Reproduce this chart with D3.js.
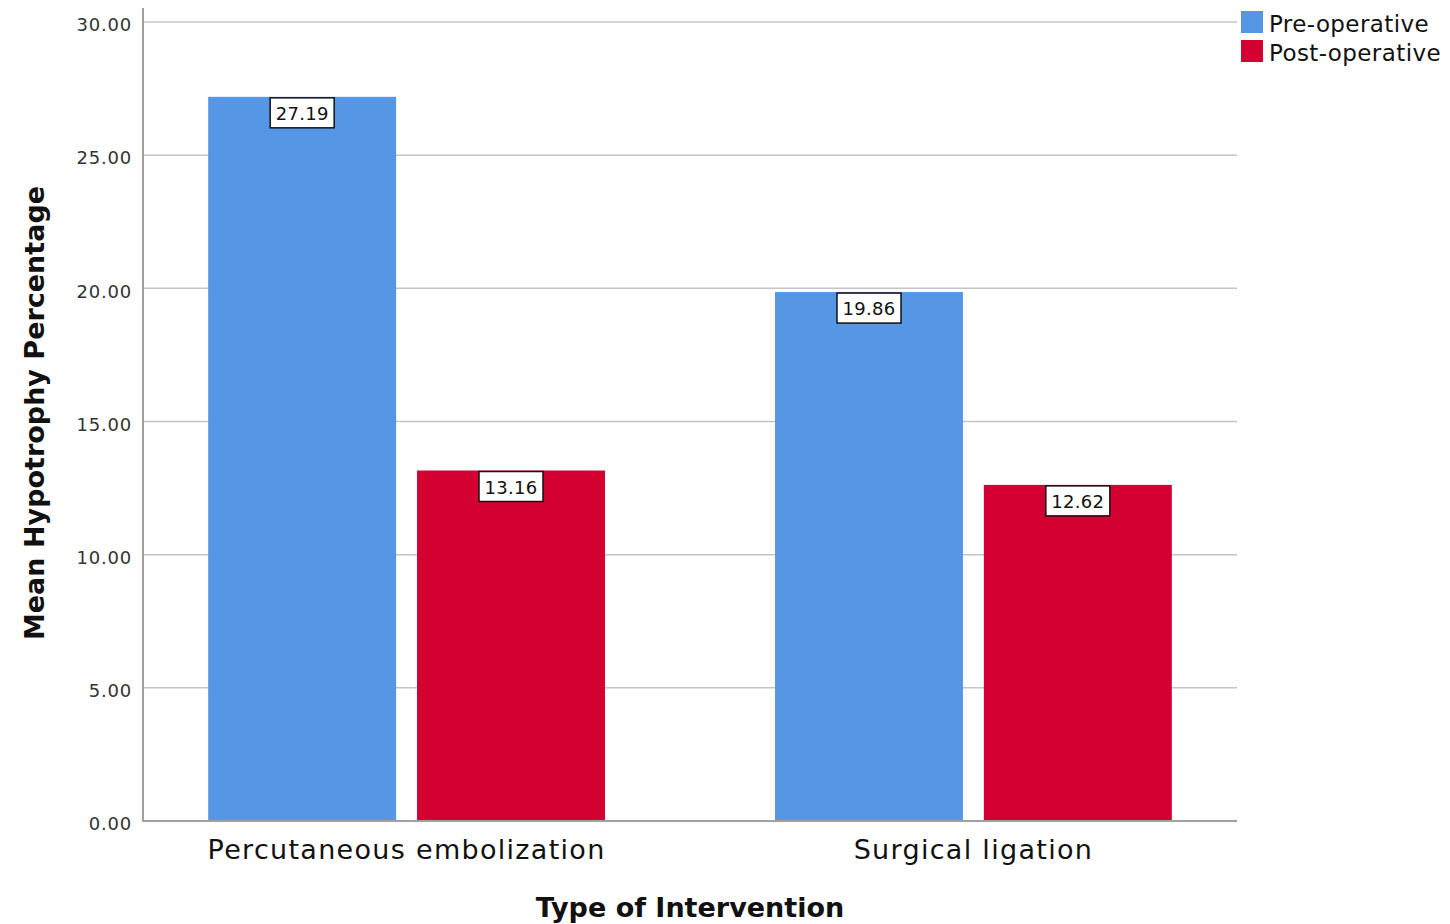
<!DOCTYPE html>
<html>
<head>
<meta charset="utf-8">
<script src="https://cdn.jsdelivr.net/npm/d3@7"></script>
<style>
body { margin: 0; background: #fff; }
text { font-family: "DejaVu Sans", sans-serif; }
</style>
</head>
<body>
<svg></svg>
<script>
var categories = ["Percutaneous embolization", "Surgical ligation"];
var series = ["Pre-operative", "Post-operative"];
var preValues = [27.19, 19.86];
var postValues = [13.16, 12.62];
var yTicks = [0, 5, 10, 15, 20, 25, 30];
var colors = ["#5596e5", "#d50032"];

var svg = d3.select("svg")
    .attr("width", 1450)
    .attr("height", 924);

var plotLeft = 143, plotRight = 1237, plotTop = 22, plotBottom = 821;

var x0 = d3.scaleBand()
    .domain(categories)
    .range([plotLeft, plotRight])
    .paddingInner(0.3)
    .paddingOuter(0.115);

var x1 = d3.scaleBand()
    .domain(series)
    .range([0, x0.bandwidth()])
    .paddingInner(0.1);

var y = d3.scaleLinear()
    .domain([0, 30])
    .range([plotBottom, plotTop]);

var color = d3.scaleOrdinal().domain(series).range(colors);

// gridlines
svg.append("g")
    .selectAll("line")
    .data(yTicks.filter(function(d) { return d > 0; }))
    .enter().append("line")
    .attr("x1", plotLeft)
    .attr("x2", plotRight)
    .attr("y1", function(d) { return y(d); })
    .attr("y2", function(d) { return y(d); })
    .attr("stroke", "#c4c4c4")
    .attr("stroke-width", 1.5);

var rows = [];
categories.forEach(function(c, i) {
    rows.push({ cat: c, s: series[0], v: preValues[i] });
    rows.push({ cat: c, s: series[1], v: postValues[i] });
});

svg.append("g")
    .selectAll("rect")
    .data(rows)
    .enter().append("rect")
    .attr("x", function(d) { return x0(d.cat) + x1(d.s); })
    .attr("y", function(d) { return y(d.v); })
    .attr("width", x1.bandwidth())
    .attr("height", function(d) { return y(0) - y(d.v); })
    .attr("fill", function(d) { return color(d.s); });

// value labels
var lab = svg.append("g")
    .selectAll("g")
    .data(rows)
    .enter().append("g")
    .attr("transform", function(d) {
        return "translate(" + (x0(d.cat) + x1(d.s) + x1.bandwidth() / 2) + "," + (y(d.v) + 1) + ")";
    });

lab.append("rect")
    .attr("x", -32)
    .attr("y", 0)
    .attr("width", 64)
    .attr("height", 30)
    .attr("fill", "#fff")
    .attr("stroke", "#111")
    .attr("stroke-width", 1.5);

lab.append("text")
    .attr("y", 22)
    .attr("text-anchor", "middle")
    .attr("font-size", 18)
    .attr("letter-spacing", 0.3)
    .attr("fill", "#111")
    .text(function(d) { return d.v.toFixed(2); });

// y axis
var yAxis = svg.append("g")
    .attr("transform", "translate(" + plotLeft + ",0)")
    .call(d3.axisLeft(y).tickValues(yTicks).tickSize(0).tickPadding(11)
        .tickFormat(function(d) { return d.toFixed(2); }));
yAxis.select(".domain").remove();
yAxis.selectAll(".tick text")
    .attr("font-size", 18)
    .attr("letter-spacing", 0.8)
    .attr("fill", "#333")
    .attr("y", 3)
    .attr("dy", "0.32em");

svg.append("line")
    .attr("x1", plotLeft).attr("x2", plotLeft)
    .attr("y1", 8).attr("y2", plotBottom + 1)
    .attr("stroke", "#a0a0a0")
    .attr("stroke-width", 2);

// x axis
var xAxis = svg.append("g")
    .attr("transform", "translate(0," + plotBottom + ")")
    .call(d3.axisBottom(x0).tickSize(0).tickPadding(19));
xAxis.select(".domain").remove();
xAxis.selectAll("text")
    .attr("font-size", 27)
    .attr("letter-spacing", 1.3)
    .attr("fill", "#111")
    .attr("dy", "0.71em");

svg.append("line")
    .attr("x1", plotLeft).attr("x2", plotRight)
    .attr("y1", plotBottom).attr("y2", plotBottom)
    .attr("stroke", "#a0a0a0")
    .attr("stroke-width", 2);

// axis titles
svg.append("text")
    .attr("x", (plotLeft + plotRight) / 2)
    .attr("y", 917)
    .attr("text-anchor", "middle")
    .attr("font-size", 27)
    .attr("font-weight", "bold")
    .attr("fill", "#111")
    .text("Type of Intervention");

svg.append("text")
    .attr("transform", "translate(44,413) rotate(-90)")
    .attr("text-anchor", "middle")
    .attr("font-size", 27)
    .attr("font-weight", "bold")
    .attr("fill", "#111")
    .text("Mean Hypotrophy Percentage");

// legend
var legend = svg.append("g")
    .selectAll("g")
    .data(series)
    .enter().append("g")
    .attr("transform", function(d, i) { return "translate(1241," + (11 + i * 29) + ")"; });

legend.append("rect")
    .attr("width", 22)
    .attr("height", 22)
    .attr("fill", function(d) { return color(d); });

legend.append("text")
    .attr("x", 28)
    .attr("y", 21)
    .attr("font-size", 23)
    .attr("letter-spacing", 0.4)
    .attr("fill", "#111")
    .text(function(d) { return d; });
</script>
</body>
</html>
